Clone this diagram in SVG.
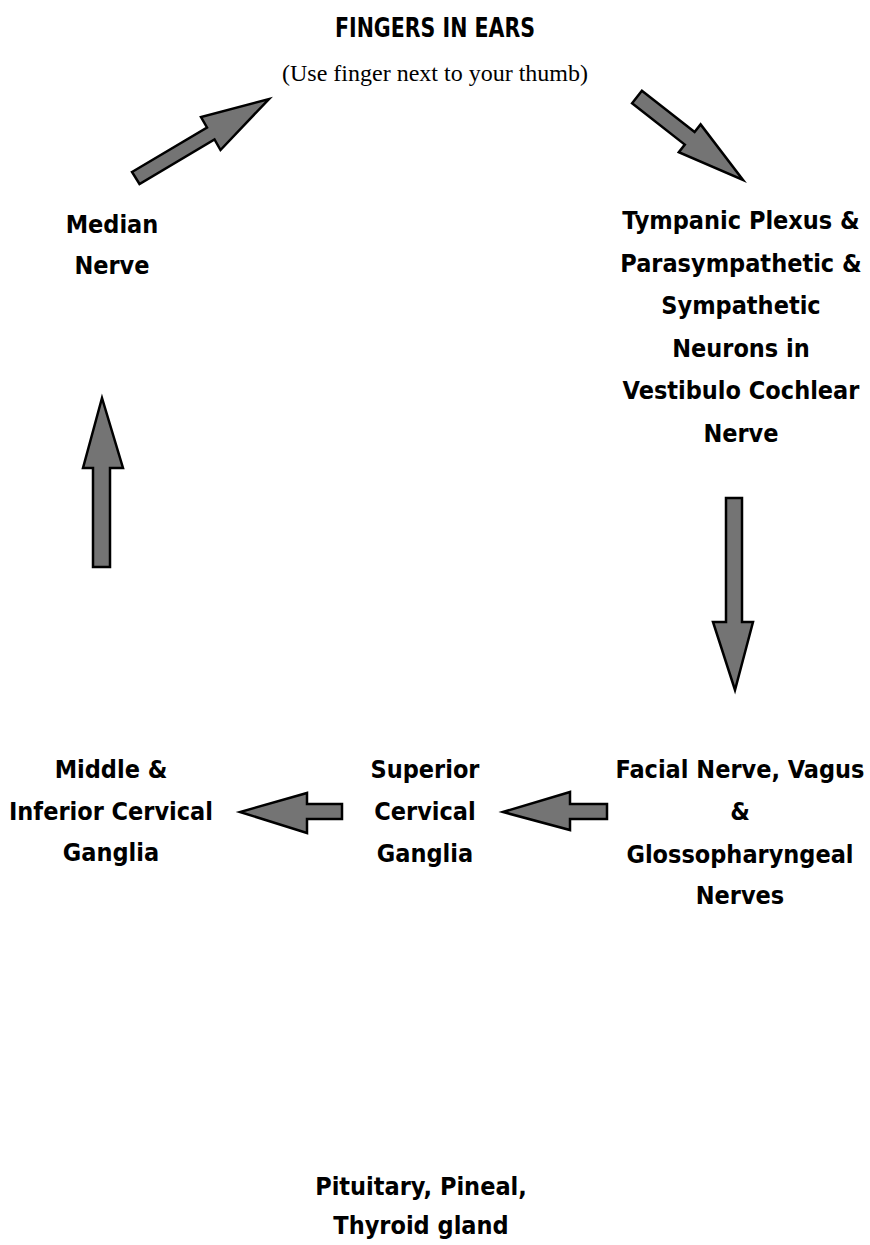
<svg xmlns="http://www.w3.org/2000/svg" width="870" height="1245" viewBox="0 0 870 1245">
<style>
.t{font-family:"Liberation Sans Narrow","DejaVu Sans Condensed","Liberation Sans",sans-serif;font-weight:bold;font-size:25px;fill:#000;text-anchor:middle}
.title{font-size:27px}
.sub{font-family:"Liberation Serif",serif;font-size:24px;fill:#000;text-anchor:middle}
.arr{fill:#747474;stroke:#000;stroke-width:2.5;stroke-linejoin:miter}
</style>
<rect width="870" height="1245" fill="#fff"/>
<g id="title">
<text class="t title" x="435" y="37" textLength="200" lengthAdjust="spacingAndGlyphs">FINGERS IN EARS</text>
<text class="sub" x="435" y="81">(Use finger next to your thumb)</text>
</g>
<g id="median">
<text class="t" x="112" y="233">Median</text>
<text class="t" x="112" y="274">Nerve</text>
</g>
<g id="tympanic">
<text class="t" x="741" y="229">Tympanic Plexus &amp;</text>
<text class="t" x="741" y="272">Parasympathetic &amp;</text>
<text class="t" x="741" y="314">Sympathetic</text>
<text class="t" x="741" y="357">Neurons in</text>
<text class="t" x="741" y="399">Vestibulo Cochlear</text>
<text class="t" x="741" y="442">Nerve</text>
</g>
<g id="facial">
<text class="t" x="740" y="778">Facial Nerve, Vagus</text>
<text class="t" x="740" y="820">&amp;</text>
<text class="t" x="740" y="863">Glossopharyngeal</text>
<text class="t" x="740" y="904">Nerves</text>
</g>
<g id="superior">
<text class="t" x="425" y="778">Superior</text>
<text class="t" x="425" y="820">Cervical</text>
<text class="t" x="425" y="862">Ganglia</text>
</g>
<g id="middle">
<text class="t" x="111" y="778">Middle &amp;</text>
<text class="t" x="111" y="820">Inferior Cervical</text>
<text class="t" x="111" y="861">Ganglia</text>
</g>
<g id="pituitary">
<text class="t" x="421" y="1195">Pituitary, Pineal,</text>
<text class="t" x="421" y="1234">Thyroid gland</text>
</g>
<g id="connectors">
<polygon class="arr" points="132,172 207,127.5 201,117 269,99 220.5,150 214.5,139.5 139.5,184"/>
<polygon class="arr" points="641.9,90.7 694.6,132 700.6,124.4 743,180 678.8,152.2 684.8,144.6 632.1,103.3"/>
<polygon class="arr" points="726,498 742,498 742,622 753,622 735,690 713,622 726,622"/>
<polygon class="arr" points="93,567 93,468 83,468 102,398 123,468 110,468 110,567"/>
<polygon class="arr" points="342,804 307,804 307,793 240,812 307,833 307,819 342,819"/>
<polygon class="arr" points="607,804 570,804 570,792 503,812 570,830 570,819 607,819"/>
</g>
</svg>
